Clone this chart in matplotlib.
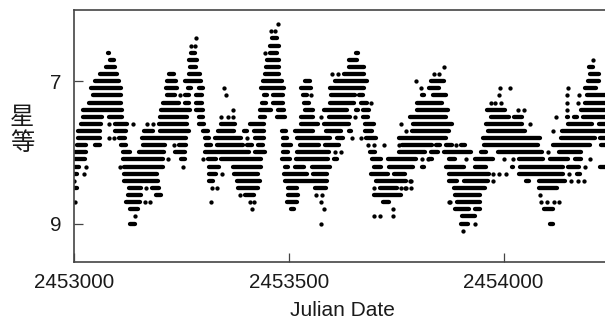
import matplotlib
matplotlib.use('Agg')
import matplotlib.pyplot as plt

# visual magnitudes come in 0.1 steps, days counted from JD 2453000
JD0 = 2453000
levels = [6.2, 6.3, 6.4, 6.5, 6.6, 6.7, 6.8, 6.9, 7.0, 7.1, 7.2, 7.3, 7.4, 7.5, 7.6,
          7.7, 7.8, 7.9, 8.0, 8.1, 8.2, 8.3, 8.4, 8.5, 8.6, 8.7, 8.8, 8.9, 9.0, 9.1]

# stretches of overlapping observations on each level (first day, last day)
runs = [
    [],
    [],
    [(460, 472)],
    [(456, 477)],
    [(78, 81), (273, 282), (456, 473), (657, 661)],
    [(83, 92), (268, 287), (450, 477), (640, 659)],
    [(74, 96), (269, 285), (447, 478), (641, 675), (1198, 1207)],
    [(60, 99), (222, 233), (267, 293), (445, 478), (628, 674), (1202, 1222)],
    [(49, 104), (216, 238), (259, 295), (439, 483), (538, 549), (607, 682), (830, 861), (1196, 1222)],
    [(40, 110), (215, 240), (265, 272), (290, 301), (435, 488), (529, 551), (596, 674), (827, 850), (1190, 1215)],
    [(44, 110), (216, 236), (259, 268), (284, 298), (442, 449), (463, 487), (533, 543), (599, 653), (664, 673),
     (810, 814), (836, 865), (1194, 1236)],
    [(36, 110), (207, 244), (258, 268), (285, 298), (438, 448), (463, 487), (535, 547), (597, 652), (667, 683),
     (799, 857), (1190, 1236)],
    [(22, 112), (203, 270), (285, 301), (434, 459), (475, 489), (537, 557), (581, 636), (657, 660), (673, 686),
     (799, 870), (962, 1003), (1180, 1236)],
    [(22, 66), (82, 112), (201, 264), (292, 301), (434, 445), (473, 492), (529, 556), (593, 643), (673, 684),
     (783, 866), (971, 1013), (1024, 1042), (1148, 1150), (1163, 1170), (1184, 1236)],
    [(17, 64), (95, 124), (199, 263), (290, 303), (343, 374), (410, 442), (529, 568), (581, 640), (678, 698),
     (789, 879), (960, 1043), (1149, 1206), (1222, 1236)],
    [(9, 61), (96, 122), (162, 185), (201, 267), (301, 313), (335, 372), (396, 403), (418, 442), (484, 494),
     (515, 557), (587, 622), (640, 644), (677, 694), (787, 873), (963, 1049), (1136, 1236)],
    [(9, 61), (105, 119), (159, 261), (304, 314), (329, 388), (422, 442), (486, 495), (518, 597), (612, 625),
     (680, 702), (757, 865), (952, 1084), (1134, 1212), (1225, 1236)],
    [(8, 27), (50, 61), (110, 122), (161, 211), (245, 260), (307, 318), (332, 394), (402, 414), (428, 441),
     (486, 504), (525, 570), (585, 616), (764, 833), (843, 851), (865, 879), (900, 909), (955, 1080), (1114, 1200),
     (1227, 1236)],
    [(2, 27), (114, 131), (152, 209), (236, 258), (304, 407), (421, 444), (487, 498), (518, 593), (690, 700),
     (757, 816), (830, 847), (861, 925), (948, 960), (986, 1090), (1128, 1180)],
    [(2, 25), (115, 208), (249, 258), (313, 331), (343, 436), (484, 502), (517, 591), (605, 612), (694, 714),
     (730, 797), (826, 834), (872, 886), (933, 976), (1035, 1092), (1107, 1150), (1167, 1181)],
    [(2, 11), (116, 207), (314, 337), (369, 436), (492, 498), (515, 535), (553, 596), (699, 715), (734, 789),
     (809, 815), (865, 908), (933, 960), (1020, 1022), (1039, 1138), (1149, 1175), (1225, 1236)],
    [(1, 7), (116, 194), (314, 331), (373, 428), (488, 542), (556, 589), (692, 731), (744, 771), (872, 966),
     (1035, 1138), (1170, 1178)],
    [(116, 195), (315, 324), (380, 433), (492, 589), (703, 773), (872, 892), (907, 964), (1051, 1059), (1082, 1142)],
    [(1, 7), (128, 155), (182, 199), (382, 428), (498, 520), (562, 587), (712, 751), (884, 956), (1082, 1125)],
    [(125, 157), (190, 202), (397, 420), (497, 522), (698, 762), (888, 946)],
    [(120, 153), (496, 518), (719, 733), (892, 944)],
    [(130, 150), (504, 511), (887, 920), (934, 944), (1094, 1115)],
    [(903, 934)],
    [(130, 143), (900, 917), (1108, 1114)],
    [],
]

# single observations standing apart from the runs
dots = [
    [476],
    [459, 468],
    [285],
    [273, 282],
    [444],
    [1209],
    [862],
    [601, 614, 839, 850],
    [796],
    [350, 808, 992, 1016, 1151],
    [247, 354, 551, 990, 1147, 1175],
    [692, 971, 979, 993, 1147, 1173],
    [369, 1034, 1048, 1148],
    [343, 359, 369, 576, 653, 1121],
    [82, 137, 169, 183, 760, 1061],
    [773, 1115],
    [82, 92, 403, 647, 667],
    [233, 684, 698, 722, 757, 889],
    [608, 622, 1104],
    [219, 301, 809, 823, 913, 1000, 1021, 1200],
    [28, 107, 253, 1190],
    [23, 344, 975, 989, 1006, 1153],
    [1, 782, 785, 976, 1156, 1174, 1186],
    [168, 322, 333, 698, 761, 771, 773, 785],
    [386, 563, 577, 1084],
    [2, 165, 178, 319, 410, 420, 576, 872, 875, 1087, 1102, 1118, 1129],
    [415, 582, 742],
    [143, 699, 712, 743],
    [574, 934],
    [906],
]

x_ticks = [2453000, 2453500, 2454000]
y_ticks = [7, 9]

plt.rcParams['font.family'] = ['Liberation Sans', 'DejaVu Sans']
axis_color = '#444444'
text_color = '#1a1a1a'
dot_size = 3.1

fig = plt.figure(figsize=(6.05, 3.2), dpi=100)
ax = fig.add_axes([74 / 605, 1 - 262 / 320, 531 / 605, 252 / 320])

for mag, level_runs, level_dots in zip(levels, runs, dots):
    for start, end in level_runs:
        ax.plot([JD0 + start, JD0 + end], [mag, mag], color='black', lw=dot_size,
                solid_capstyle='round', clip_on=True)
    ax.plot([JD0 + d for d in level_dots], [mag] * len(level_dots), 'o', color='black',
            ms=dot_size, mew=0, ls='none')

ax.set_xlim(2453000, 2454236)
ax.set_ylim(9.54, 6.0)
ax.set_xticks(x_ticks)
ax.set_xticklabels([str(t) for t in x_ticks])
ax.set_yticks(y_ticks)
ax.tick_params(axis='both', direction='in', length=6.5, width=0.9, color=axis_color,
               labelsize=14.8, labelcolor=text_color)
ax.tick_params(axis='x', pad=8)
ax.tick_params(axis='y', pad=9)
for side in ['top', 'left', 'bottom']:
    ax.spines[side].set_color(axis_color)
    ax.spines[side].set_linewidth(1.2)
ax.spines['right'].set_visible(False)

fig.text(342 / 605, 1 - 311 / 320, 'Julian Date', ha='center', va='center', fontsize=15, color=text_color)
fig.text(22 / 605, 1 - 130 / 320, '星\n等', ha='center', va='center', fontsize=17.5, color=text_color,
         linespacing=0.95, family=['Noto Sans CJK SC', 'DejaVu Sans'])

fig.savefig('out.png', dpi=100)
